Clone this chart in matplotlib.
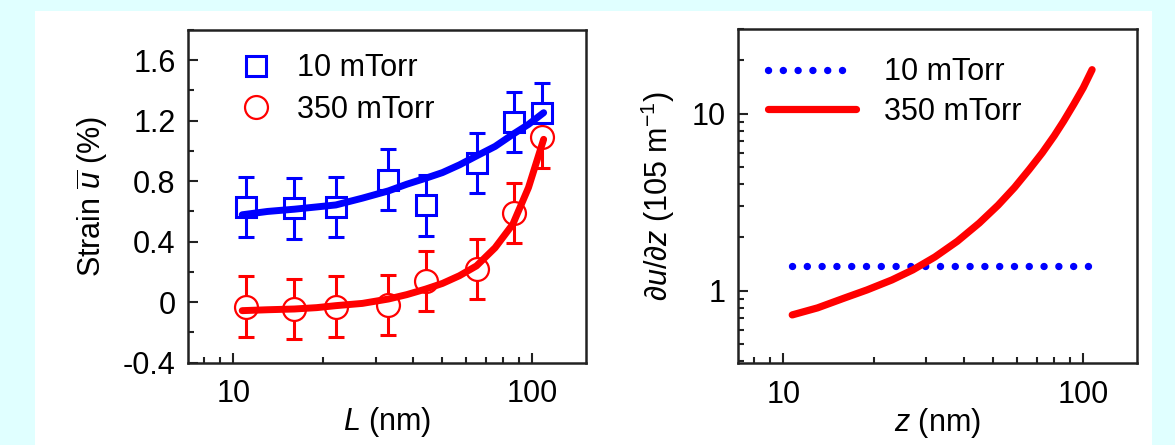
import matplotlib.pyplot as plt
from matplotlib.patches import Rectangle
from matplotlib.ticker import FixedLocator, LogLocator, MultipleLocator, NullFormatter

plt.rcParams['font.family'] = ['Liberation Sans', 'DejaVu Sans']
plt.rcParams['mathtext.fontset'] = 'custom'
plt.rcParams['mathtext.rm'] = 'Liberation Sans'
plt.rcParams['mathtext.it'] = 'Liberation Sans:italic'
plt.rcParams['font.size'] = 22

# strain vs. thickness, measured points
L_pts = [11, 16, 22, 33, 44, 65, 87, 108]
strain_10 = [0.63, 0.62, 0.63, 0.81, 0.64, 0.92, 1.19, 1.25]
strain_350 = [-0.03, -0.045, -0.03, -0.02, 0.14, 0.22, 0.59, 1.09]
err_10 = [0.2, 0.2, 0.2, 0.2, 0.2, 0.2, 0.2, 0.2]
err_350 = [0.2, 0.2, 0.2, 0.2, 0.2, 0.2, 0.2, 0.2]

# fitted curves
L_fit = [10.7, 13, 16, 19, 22, 27, 33, 38, 44, 50, 57, 65, 75, 86, 97, 109]
fit_10 = [0.578, 0.60, 0.615, 0.63, 0.643, 0.688, 0.736, 0.78, 0.82, 0.857,
          0.908, 0.967, 1.03, 1.11, 1.176, 1.253]
fit_350 = [-0.056, -0.05, -0.045, -0.036, -0.023, -0.008, 0.021, 0.05, 0.087,
           0.124, 0.175, 0.24, 0.36, 0.516, 0.758, 1.077]

# strain gradient vs. depth
z_350 = [10.7, 13, 16, 19, 23, 27, 32, 38, 45, 52, 59, 66, 73, 80, 86, 93, 100, 107]
grad_350 = [0.73, 0.80, 0.91, 1.01, 1.15, 1.31, 1.55, 1.90, 2.41, 3.04, 3.83,
            4.83, 6.01, 7.49, 9.06, 11.3, 14.0, 17.7]
z_10 = [10.7, 105]
grad_10 = [1.37, 1.37]

labels = ['10 mTorr', '350 mTorr']
strain_ticks = [-0.4, 0, 0.4, 0.8, 1.2, 1.6]
strain_ticklabels = ['-0.4', '0', '0.4', '0.8', '1.2', '1.6']

blue = '#0000ff'
red = '#ff0000'
spine_c = '#222222'

fig = plt.figure(figsize=(11.75, 4.45), dpi=100, facecolor='#e0ffff')
fig.patches.append(Rectangle((35 / 1175, 0), 1117 / 1175, 434 / 445,
                             transform=fig.transFigure, facecolor='white',
                             edgecolor='none', zorder=-10))

ax1 = fig.add_axes([0.160, 0.185, 0.3387, 0.7476])
ax2 = fig.add_axes([0.628, 0.184, 0.3396, 0.7506])


def style_axes(ax):
    for s in ax.spines.values():
        s.set_linewidth(1.8)
        s.set_color(spine_c)
    ax.tick_params(which='both', direction='in', top=False, right=False,
                   width=1.5, color=spine_c)
    ax.tick_params(which='major', length=7.5, pad=9)
    ax.tick_params(which='minor', length=4.5)
    ax.set_xscale('log')
    ax.set_xlim(7.05, 151)
    ax.xaxis.set_major_locator(FixedLocator([10, 100]))
    ax.set_xticklabels(['10', '100'])
    ax.xaxis.set_minor_locator(LogLocator(base=10, subs=range(2, 10)))
    ax.xaxis.set_minor_formatter(NullFormatter())
    ax.tick_params(axis='x', which='major', pad=12)


# left panel
style_axes(ax1)
ax1.errorbar(L_pts, strain_10, yerr=err_10, fmt='none', ecolor=blue,
             elinewidth=2.2, capsize=6, capthick=2.2, zorder=2)
ax1.errorbar(L_pts, strain_350, yerr=err_350, fmt='none', ecolor=red,
             elinewidth=2.2, capsize=6, capthick=2.2, zorder=2)
h_sq, = ax1.plot(L_pts, strain_10, ls='none', marker='s', ms=15, mew=2.2,
                 mec=blue, mfc='white', label=labels[0], zorder=3)
h_ci, = ax1.plot(L_pts, strain_350, ls='none', marker='o', ms=16.5, mew=1.6,
                 mec=red, mfc='white', label=labels[1], zorder=3)
ax1.plot(L_fit, fit_10, color=blue, lw=5, solid_capstyle='round', zorder=4)
ax1.plot(L_fit, fit_350, color=red, lw=5, solid_capstyle='round', zorder=4)

ax1.set_ylim(-0.4, 1.8)
ax1.yaxis.set_major_locator(FixedLocator(strain_ticks))
ax1.set_yticklabels(strain_ticklabels)
ax1.yaxis.set_minor_locator(MultipleLocator(0.2))
ax1.set_ylabel(r'Strain $\overline{u}$ (%)', labelpad=9)
ax1.set_xlabel(r'$L$ (nm)', labelpad=-3)
ax1.legend(handles=[h_sq, h_ci], loc='upper left', bbox_to_anchor=(0.125, 0.93),
           frameon=False, borderpad=0, borderaxespad=0, handlelength=1.2,
           handletextpad=0.75, labelspacing=0.38)

# right panel
style_axes(ax2)
h_dot, = ax2.plot(z_10, grad_10, color=blue, lw=5.3, ls=(0, (0.01, 2.0)),
                  dash_capstyle='round', label=labels[0])
h_red, = ax2.plot(z_350, grad_350, color=red, lw=5.2, solid_capstyle='round',
                  label=labels[1])
ax2.set_yscale('log')
ax2.set_ylim(0.39, 30)
ax2.yaxis.set_major_locator(FixedLocator([1, 10]))
ax2.set_yticklabels(['1', '10'])
ax2.yaxis.set_minor_locator(LogLocator(base=10, subs=range(2, 10)))
ax2.yaxis.set_minor_formatter(NullFormatter())
ax2.set_ylabel(r'$\partial u/\partial z$ (105 m$^{-1}$)', labelpad=10)
ax2.set_xlabel(r'$z$ (nm)', labelpad=-3)
ax2.legend(handles=[h_dot, h_red], loc='upper left', bbox_to_anchor=(0.075, 0.915),
           frameon=False, borderpad=0, borderaxespad=0, handlelength=2.9,
           handletextpad=0.9, labelspacing=0.3)

fig.savefig('out.png', dpi=100, facecolor=fig.get_facecolor())
